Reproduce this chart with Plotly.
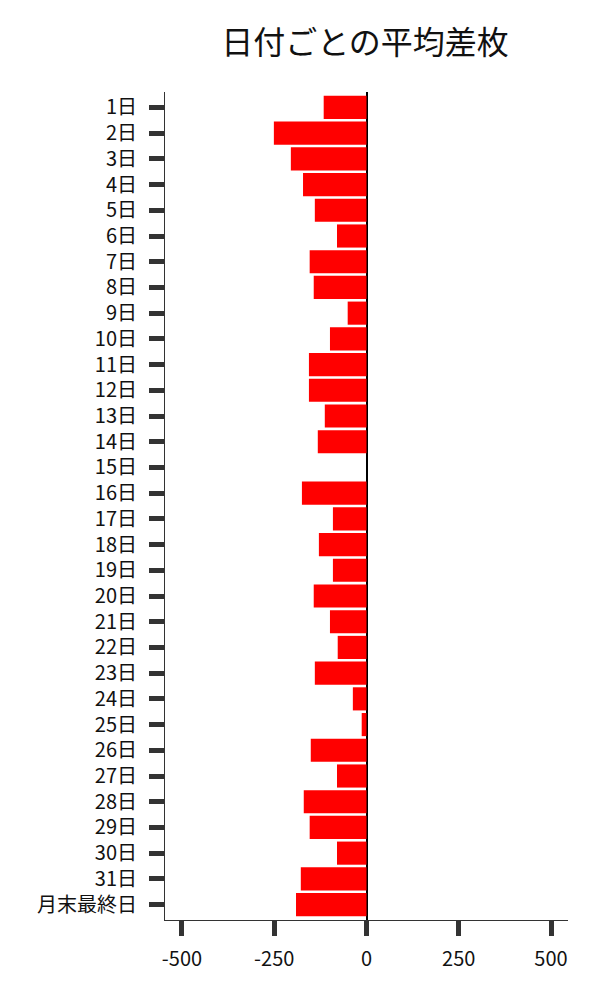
import plotly.graph_objects as go

days = [f"{i}日" for i in range(1, 32)] + ["月末最終日"]
avg_diff = [-116, -251, -205, -172, -140, -80, -154, -143, -51, -99,
            -156, -156, -113, -132, 0, -175, -91, -129, -91, -143,
            -99, -78, -140, -37, -13, -151, -80, -170, -154, -80,
            -178, -191]
x_ticks = [-500, -250, 0, 250, 500]
x_labels = ["-500", "-250", "0", "250", "500"]

FONT = "Noto Sans CJK JP"

fig = go.Figure()
fig.add_trace(go.Bar(x=avg_diff, y=days, orientation="h",
                     marker=dict(color="#ff0000", line=dict(width=0))))

fig.update_layout(
    width=600, height=1000,
    paper_bgcolor="white", plot_bgcolor="white",
    font=dict(family=FONT, size=20, color="#111"),
    title=dict(text="日付ごとの平均差枚", x=0.595, xanchor="center",
               y=0.965, yanchor="middle", font=dict(size=32, family=FONT, color="#111")),
    margin=dict(l=157, r=40, t=84, b=88),
    bargap=0.1,
    showlegend=False,
)
fig.update_xaxes(range=[-546, 546], tickvals=x_ticks, ticktext=x_labels,
                 showgrid=False, showline=True, linecolor="#333", linewidth=1,
                 ticks="outside", ticklen=15, tickwidth=5, tickcolor="#333",
                 ticklabelstandoff=6,
                 zeroline=True, zerolinecolor="black", zerolinewidth=2)
# categories listed top to bottom, a little padding above and below
fig.update_yaxes(range=[len(days) - 0.4, -0.6], showgrid=False, showline=True,
                 linecolor="#333", linewidth=1, ticks="outside", ticklen=15,
                 tickwidth=5, tickcolor="#333", ticklabelstandoff=8)

fig.write_html("out.html")
